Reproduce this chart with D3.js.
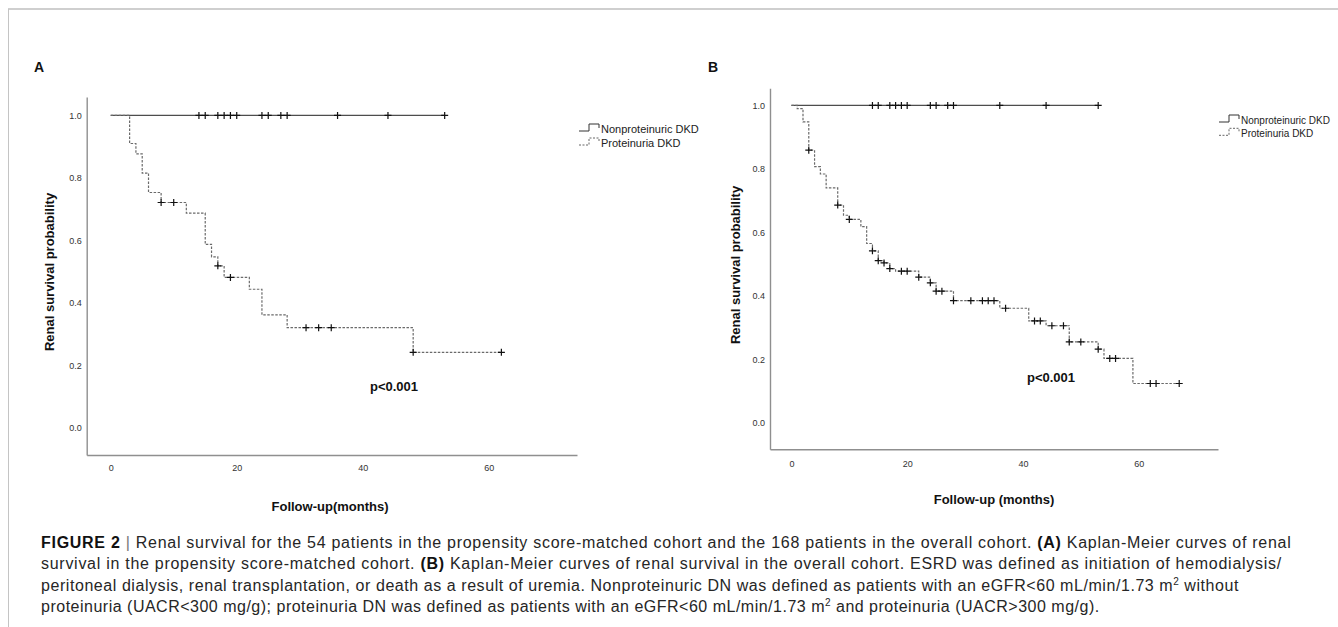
<!DOCTYPE html>
<html>
<head>
<meta charset="utf-8">
<script src="https://cdn.jsdelivr.net/npm/d3@7"></script>
<style>
  body { margin: 0; background: #fff; }
  text { font-family: "Liberation Sans", Arial, sans-serif; }
</style>
</head>
<body>
<div id="figure"></div>
<script>
// groups and axis ticks
var groups = ["Nonproteinuric DKD", "Proteinuria DKD"];
var xTicks = [0, 20, 40, 60];
var yTicks = [0, 0.2, 0.4, 0.6, 0.8, 1.0];

// nonproteinuric group: no events, only censored patients (same in both cohorts)
var nonprotCensor = [14, 15, 17, 18, 19, 20, 24, 25, 27, 28, 36, 44, 53];
var nonprotEnd = 53;

// panel A - propensity score-matched cohort, proteinuria group
var protTimesA = [3, 4, 5, 6, 8, 12, 15, 16, 17, 18, 22, 24, 28, 48];
var protSurvA = [0.91, 0.877, 0.815, 0.753, 0.721, 0.687, 0.587, 0.547, 0.518, 0.481, 0.443, 0.361, 0.32, 0.241];
var protCensorA = [8, 10, 17, 19, 31, 33, 35, 48, 62];
var protEndA = 62;

// panel B - overall cohort, proteinuria group
var protTimesB = [1, 2, 3, 4, 5, 6, 8, 9, 10, 12, 13, 14, 15, 16, 17, 18, 22, 24, 25, 28, 36, 41, 44, 48, 53, 54, 59];
var protSurvB = [0.99, 0.948, 0.859, 0.807, 0.784, 0.74, 0.686, 0.654, 0.641, 0.618, 0.565, 0.542, 0.511, 0.504, 0.486, 0.478, 0.459, 0.441, 0.415, 0.385, 0.361, 0.321, 0.306, 0.255, 0.232, 0.203, 0.124];
var protCensorB = [3, 8, 10, 14, 15, 16, 17, 19, 20, 22, 24, 25, 26, 28, 31, 33, 34, 35, 37, 42, 43, 45, 47, 48, 50, 53, 55, 56, 62, 63, 67];
var protEndB = 67;

var width = 1338;
var height = 627;

var svg = d3.select("#figure")
  .append("svg")
  .attr("width", width)
  .attr("height", height);

// frame of the figure box
svg.append("line")
  .attr("x1", 8).attr("x2", width)
  .attr("y1", 9).attr("y2", 9)
  .style("stroke", "#cfcfcf")
  .style("stroke-width", 2);
svg.append("line")
  .attr("x1", 8.5).attr("x2", 8.5)
  .attr("y1", 9).attr("y2", height)
  .style("stroke", "#c4c4c4")
  .style("stroke-width", 1);

function survivalAt(times, surv, t) {
  var s = 1;
  for (var i = 0; i < times.length; i++) {
    if (times[i] <= t) s = surv[i];
  }
  return s;
}

function panel(cfg) {
  var x = d3.scaleLinear().domain(cfg.xDomain).range(cfg.xRange);
  var y = d3.scaleLinear().domain(cfg.yDomain).range(cfg.yRange);

  svg.append("text")
    .attr("x", cfg.letterX)
    .attr("y", 72)
    .style("font-size", "14px")
    .style("font-weight", "bold")
    .attr("fill", "#111")
    .text(cfg.letter);

  var xAxis = svg.append("g")
    .attr("transform", "translate(0," + cfg.yRange[0] + ")")
    .call(d3.axisBottom(x).tickValues(xTicks).tickSize(0).tickPadding(cfg.xPad).tickSizeOuter(0));
  var yAxis = svg.append("g")
    .attr("transform", "translate(" + cfg.xRange[0] + ",0)")
    .call(d3.axisLeft(y).tickValues(yTicks).tickSize(0).tickPadding(5).tickSizeOuter(0).tickFormat(d3.format(".1f")));

  [xAxis, yAxis].forEach(function (g) {
    g.select(".domain").style("stroke", "#8f8f8f").style("stroke-width", 1.4);
    g.selectAll("text")
      .style("font-family", "'Liberation Sans', Arial, sans-serif")
      .style("font-size", "9px")
      .attr("fill", "#333");
  });

  // step curves
  var line = d3.line()
    .x(function (d) { return x(d[0]); })
    .y(function (d) { return y(d[1]); })
    .curve(d3.curveStepAfter);

  var nonprotPts = [[0, 1], [nonprotEnd, 1]];
  var protPts = [[0, 1]];
  cfg.times.forEach(function (t, i) { protPts.push([t, cfg.surv[i]]); });
  protPts.push([cfg.end, cfg.surv[cfg.surv.length - 1]]);

  svg.append("path")
    .attr("d", line(nonprotPts))
    .attr("fill", "none")
    .style("stroke", "#4d4d4d")
    .style("stroke-width", 1.2);

  svg.append("path")
    .attr("d", line(protPts))
    .attr("fill", "none")
    .style("stroke", "#6a6a6a")
    .style("stroke-width", 1.2)
    .style("stroke-dasharray", "2.5,1.5");

  // censor marks
  var marks = nonprotCensor.map(function (t) { return [t, 1]; })
    .concat(cfg.censor.map(function (t) { return [t, survivalAt(cfg.times, cfg.surv, t)]; }));

  svg.selectAll("g censor")
    .data(marks)
    .enter()
    .append("path")
    .attr("d", function (d) {
      var cx = x(d[0]), cy = y(d[1]);
      return "M" + (cx - 3.5) + "," + cy + "H" + (cx + 3.5) + "M" + cx + "," + (cy - 3.5) + "V" + (cy + 3.5);
    })
    .style("stroke", "#111")
    .style("stroke-width", 1.2);

  // axis titles
  svg.append("text")
    .attr("transform", "translate(" + cfg.yTitleX + "," + cfg.yTitleY + ") rotate(-90)")
    .style("text-anchor", "middle")
    .style("font-size", "13px")
    .style("font-weight", "bold")
    .attr("fill", "#111")
    .text("Renal survival probability");

  svg.append("text")
    .attr("x", cfg.xTitleX)
    .attr("y", cfg.xTitleY)
    .style("text-anchor", "middle")
    .style("font-size", "13px")
    .style("font-weight", "bold")
    .attr("fill", "#111")
    .text(cfg.xTitle);

  svg.append("text")
    .attr("x", cfg.pX)
    .attr("y", cfg.pY)
    .style("text-anchor", "middle")
    .style("font-size", "13px")
    .style("font-weight", "bold")
    .attr("fill", "#111")
    .text("p<0.001");

  // legend
  groups.forEach(function (name, i) {
    var ly = cfg.legY + i * cfg.legGap;
    var lx = cfg.legX;
    svg.append("path")
      .attr("d", "M" + lx + "," + (ly + 2) + "H" + (lx + 10) + "V" + (ly - 5) + "H" + (lx + 20) + "V" + (ly - 1))
      .attr("fill", "none")
      .style("stroke", i === 0 ? "#333" : "#666")
      .style("stroke-width", 1)
      .style("stroke-dasharray", i === 0 ? null : "2,1.5");
    svg.append("text")
      .attr("x", lx + 22)
      .attr("y", ly + 4)
      .style("font-size", cfg.legFont)
      .attr("fill", "#222")
      .text(name);
  });
}

panel({
  letter: "A", letterX: 34,
  xDomain: [-3.81, 74], xRange: [86.7, 577],
  yDomain: [-0.088, 1.059], yRange: [455, 97],
  xPad: 10,
  times: protTimesA, surv: protSurvA, censor: protCensorA, end: protEndA,
  yTitleX: 54, yTitleY: 272,
  xTitle: "Follow-up(months)", xTitleX: 330, xTitleY: 511,
  pX: 394, pY: 391,
  legX: 579, legY: 129, legGap: 14, legFont: "11px"
});

panel({
  letter: "B", letterX: 708,
  xDomain: [-3.7, 73.7], xRange: [770, 1218],
  yDomain: [-0.083, 1.054], yRange: [449.2, 88.3],
  xPad: 11,
  times: protTimesB, surv: protSurvB, censor: protCensorB, end: protEndB,
  yTitleX: 740, yTitleY: 265,
  xTitle: "Follow-up (months)", xTitleX: 994, xTitleY: 504,
  pX: 1051, pY: 382,
  legX: 1219, legY: 120, legGap: 13.3, legFont: "10px"
});

// caption
var captionLines = [
  [["FIGURE 2", "b"], [" | ", "bar"], ["Renal survival for the 54 patients in the propensity score-matched cohort and the 168 patients in the overall cohort. ", ""], ["(A)", "b"], [" Kaplan-Meier curves of renal", ""]],
  [["survival in the propensity score-matched cohort. ", ""], ["(B)", "b"], [" Kaplan-Meier curves of renal survival in the overall cohort. ESRD was defined as initiation of hemodialysis/", ""]],
  [["peritoneal dialysis, renal transplantation, or death as a result of uremia. Nonproteinuric DN was defined as patients with an eGFR<60 mL/min/1.73 m", ""], ["2", "sup"], [" without", "after"]],
  [["proteinuria (UACR<300 mg/g); proteinuria DN was defined as patients with an eGFR<60 mL/min/1.73 m", ""], ["2", "sup"], [" and proteinuria (UACR>300 mg/g).", "after"]]
];
var captionY = [547.5, 569, 590.7, 612.4];
var captionSpacing = [0.72, 0.72, 0.56, 0.5];

captionLines.forEach(function (parts, i) {
  var t = svg.append("text")
    .attr("x", 41)
    .attr("y", captionY[i])
    .style("font-size", "16px")
    .style("letter-spacing", captionSpacing[i] + "px")
    .attr("fill", "#262626");
  parts.forEach(function (p) {
    var ts = t.append("tspan").text(p[0]);
    if (p[1] === "b") ts.style("font-weight", "bold").attr("fill", "#111");
    if (p[1] === "bar") ts.attr("fill", "#777");
    if (p[1] === "sup") ts.style("font-size", "10px").attr("dy", -6);
    if (p[1] === "after") ts.attr("dy", 6);
  });
});
</script>
</body>
</html>
